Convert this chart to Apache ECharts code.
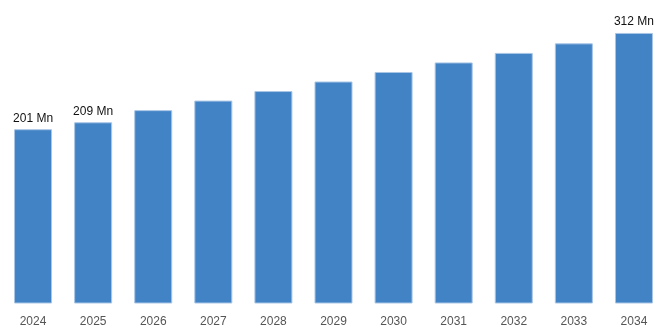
<!DOCTYPE html>
<html>
<head>
<meta charset="utf-8">
<script src="https://cdn.jsdelivr.net/npm/echarts@6/dist/echarts.min.js"></script>
<style>
  html, body { margin: 0; padding: 0; background: #fff; }
  #chart { width: 668px; height: 334px; }
</style>
</head>
<body>
<div id="chart"></div>
<script>
// Yearly values (Mn)
const years = ['2024', '2025', '2026', '2027', '2028', '2029', '2030', '2031', '2032', '2033', '2034'];
const values = [201, 209, 223, 234, 245, 256, 267, 278, 289, 300, 312];
// Only these years carry a value label
const labelledYears = ['2024', '2025', '2034'];

const chart = echarts.init(document.getElementById('chart'));

chart.setOption({
  animation: false,
  grid: { left: 3, right: 4, top: 0, bottom: 30.5, containLabel: false },
  xAxis: {
    type: 'category',
    data: years,
    axisLine: { show: false },
    axisTick: { show: false },
    axisLabel: {
      color: '#555',
      fontFamily: 'Liberation Sans, Arial, sans-serif',
      fontSize: 12,
      margin: 12
    }
  },
  yAxis: {
    type: 'value',
    min: 0,
    max: 350,
    show: false,
    splitLine: { show: false }
  },
  series: [{
    type: 'bar',
    data: values.map((v, i) => ({
      value: v,
      label: {
        show: labelledYears.includes(years[i]),
        position: 'top',
        distance: 5,
        formatter: v + ' Mn',
        color: '#111',
        fontFamily: 'Liberation Sans, Arial, sans-serif',
        fontSize: 12
      }
    })),
    barWidth: 38,
    itemStyle: {
      color: '#4283c6',
      borderColor: '#a9c6e6',
      borderWidth: 1
    }
  }]
});
</script>
</body>
</html>
